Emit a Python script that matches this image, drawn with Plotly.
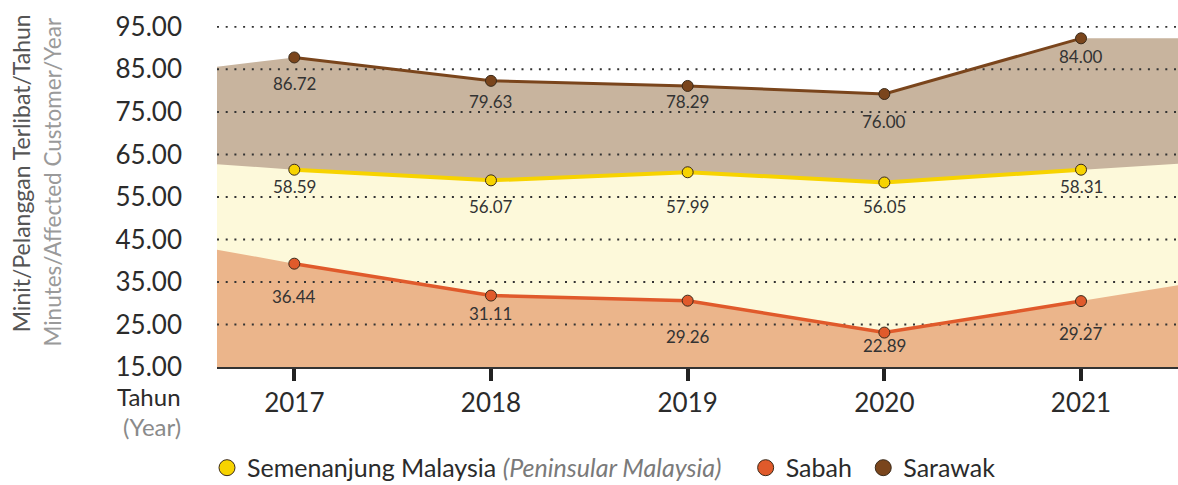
import plotly.graph_objects as go

# ---- data ----
years = ["2017", "2018", "2019", "2020", "2021"]
x_idx = [0, 1, 2, 3, 4]

# plotted positions of the points (as drawn in the reference)
peninsular_pos = [61.4, 58.9, 60.8, 58.4, 61.4]
sabah_pos = [39.3, 31.8, 30.6, 23.1, 30.5]
sarawak_pos = [87.8, 82.3, 81.1, 79.2, 92.3]

# printed data labels
peninsular_lbl = ["58.59", "56.07", "57.99", "56.05", "58.31"]
sabah_lbl = ["36.44", "31.11", "29.26", "22.89", "29.27"]
sarawak_lbl = ["86.72", "79.63", "78.29", "76.00", "84.00"]

# area edges beyond the first/last year (left edge, right edge)
peninsular_edge = [62.7, 62.8]
sabah_edge = [42.6, 34.2]
sarawak_edge = [85.6, 92.3]

y_ticks = [15, 25, 35, 45, 55, 65, 75, 85, 95]
y_ticktext = ["15.00", "25.00", "35.00", "45.00", "55.00", "65.00", "75.00", "85.00", "95.00"]

# ---- style ----
X_LEFT, X_RIGHT = -0.393, 4.493
FONT = "Lato"
C_TXT = "#2b2b2b"
series = [
    # name, pos, labels, edge, line col, fill col, line width, label offsets
    ("Sarawak", sarawak_pos, sarawak_lbl, sarawak_edge, "#7a451c", "#c8b49e", 3, [26, 21, 16, 27, 18]),
    ("Semenanjung", peninsular_pos, peninsular_lbl, peninsular_edge, "#f7d300", "#fdf9da", 4, [17, 26, 34, 24, 17]),
    ("Sabah", sabah_pos, sabah_lbl, sabah_edge, "#e05a2b", "#ebb58b", 3.5, [33, 18, 36, 13, 32]),
]

fig = go.Figure()

# filled areas
for name, pos, lbl, edge, lc, fc, lw, offs in series:
    fig.add_trace(go.Scatter(
        x=[X_LEFT] + x_idx + [X_RIGHT],
        y=[edge[0]] + pos + [edge[1]],
        mode="lines", line=dict(width=0, color=fc),
        fill="tozeroy", fillcolor=fc,
        hoverinfo="skip", showlegend=False,
    ))

# dotted gridlines above the fills
gx, gy = [], []
for t in y_ticks[1:]:
    gx += [X_LEFT, X_RIGHT, None]
    gy += [t, t, None]
fig.add_trace(go.Scatter(
    x=gx, y=gy, mode="lines",
    line=dict(color="#333333", width=2, dash="2px,6.7px"),
    hoverinfo="skip", showlegend=False,
))

# lines with markers
for name, pos, lbl, edge, lc, fc, lw, offs in series:
    fig.add_trace(go.Scatter(
        x=x_idx, y=pos, mode="lines+markers",
        line=dict(color=lc, width=lw),
        marker=dict(size=11, color=lc, line=dict(color="#3a2a1a", width=1)),
        showlegend=False, hoverinfo="skip",
    ))
    for i, t in enumerate(lbl):
        fig.add_annotation(
            x=x_idx[i], y=pos[i], text=t, showarrow=False,
            yshift=-offs[i], font=dict(family=FONT, size=17, color="#333333"),
        )

# legend entries
legend_items = [
    ("Semenanjung Malaysia <i><span style='color:#7a7a7a'>(Peninsular Malaysia)</span></i>   ", "#f7d300"),
    ("Sabah ", "#e05a2b"),
    ("Sarawak", "#7a451c"),
]
for nm, col in legend_items:
    fig.add_trace(go.Scatter(
        x=[None], y=[None], mode="markers", name=nm,
        marker=dict(size=16, color=col, line=dict(color="#3a2a1a", width=1)),
    ))

# axis captions
fig.add_annotation(
    xref="paper", yref="paper", x=0, y=0.568, xanchor="center", yanchor="middle",
    text="Minit/Pelanggan Terlibat/Tahun", textangle=-90, showarrow=False,
    font=dict(family=FONT, size=23, color="#555555"), xshift=-196,
)
fig.add_annotation(
    xref="paper", yref="paper", x=0, y=0.541, xanchor="center", yanchor="middle",
    text="Minutes/Affected Customer/Year", textangle=-90, showarrow=False,
    font=dict(family=FONT, size=22.5, color="#9a9a9a"), xshift=-164,
)
fig.add_annotation(
    xref="paper", yref="paper", x=0, y=0, xanchor="right", yanchor="middle",
    text="Tahun", showarrow=False, xshift=-34, yshift=-29,
    font=dict(family=FONT, size=24, color=C_TXT),
)
fig.add_annotation(
    xref="paper", yref="paper", x=0, y=0, xanchor="right", yanchor="middle",
    text="(Year)", showarrow=False, xshift=-34, yshift=-59,
    font=dict(family=FONT, size=24, color="#8a8a8a"),
)

fig.update_layout(
    width=1178, height=485,
    margin=dict(l=217, r=0, t=26, b=118, autoexpand=False),
    paper_bgcolor="white", plot_bgcolor="white",
    font=dict(family=FONT, color=C_TXT),
    xaxis=dict(
        range=[X_LEFT, X_RIGHT], tickmode="array", tickvals=x_idx, ticktext=years,
        showgrid=False, zeroline=False, showline=True, linecolor="#333333", linewidth=2,
        ticks="outside", ticklen=12, tickwidth=4, tickcolor="#222222",
        tickfont=dict(family=FONT, size=26, color=C_TXT), automargin=False,
    ),
    yaxis=dict(
        range=[15, 95.2], tickmode="array", tickvals=y_ticks, ticktext=y_ticktext,
        showgrid=False, zeroline=False, showline=False, ticks="",
        ticklabelstandoff=34, automargin=False,
        tickfont=dict(family=FONT, size=26, color=C_TXT),
    ),
    legend=dict(
        orientation="h", x=-0.0104, xanchor="left", y=-0.296, yanchor="middle",
        font=dict(family=FONT, size=25, color=C_TXT), bgcolor="rgba(0,0,0,0)",
        itemsizing="trace",
    ),
    showlegend=True,
)

fig.write_html(
    "out.html",
    config={"displayModeBar": False},
    post_script="document.body.style.margin='0';document.body.style.overflow='hidden';",
)
